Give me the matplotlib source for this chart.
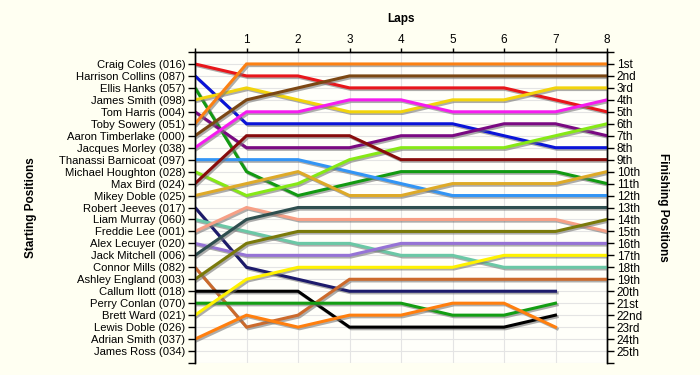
import matplotlib
matplotlib.use("Agg")
from matplotlib import pyplot as plt
import matplotlib.patheffects as pe

# starting grid order
drivers = ["Craig Coles (016)", "Harrison Collins (087)", "Ellis Hanks (057)",
           "James Smith (098)", "Tom Harris (004)", "Toby Sowery (051)",
           "Aaron Timberlake (000)", "Jacques Morley (038)", "Thanassi Barnicoat (097)",
           "Michael Houghton (028)", "Max Bird (024)", "Mikey Doble (025)",
           "Robert Jeeves (017)", "Liam Murray (060)", "Freddie Lee (001)",
           "Alex Lecuyer (020)", "Jack Mitchell (006)", "Connor Mills (082)",
           "Ashley England (003)", "Callum Ilott (018)", "Perry Conlan (070)",
           "Brett Ward (021)", "Lewis Doble (026)", "Adrian Smith (037)",
           "James Ross (034)"]

finish_labels = ["1st", "2nd", "3rd", "4th", "5th", "6th", "7th", "8th", "9th",
                 "10th", "11th", "12th", "13th", "14th", "15th", "16th", "17th",
                 "18th", "19th", "20th", "21st", "22nd", "23rd", "24th", "25th"]

laps = [0, 1, 2, 3, 4, 5, 6, 7, 8]

# position of each driver at lap 0..8 (shorter list = retired / lapped)
positions = {
    "Craig Coles (016)":        [1, 2, 2, 3, 3, 3, 3, 4, 5],
    "Harrison Collins (087)":   [2, 6, 6, 6, 6, 6, 7, 8, 8],
    "Ellis Hanks (057)":        [3, 10, 12, 11, 10, 10, 10, 10, 11],
    "James Smith (098)":        [4, 3, 4, 5, 5, 4, 4, 3, 3],
    "Tom Harris (004)":         [5, 8, 8, 8, 7, 7, 6, 6, 7],
    "Toby Sowery (051)":        [6, 1, 1, 1, 1, 1, 1, 1, 1],
    "Aaron Timberlake (000)":   [7, 4, 3, 2, 2, 2, 2, 2, 2],
    "Jacques Morley (038)":     [8, 5, 5, 4, 4, 5, 5, 5, 4],
    "Thanassi Barnicoat (097)": [9, 9, 9, 10, 11, 12, 12, 12, 12],
    "Michael Houghton (028)":   [10, 12, 11, 9, 8, 8, 8, 7, 6],
    "Max Bird (024)":           [11, 7, 7, 7, 9, 9, 9, 9, 9],
    "Mikey Doble (025)":        [12, 11, 10, 12, 12, 11, 11, 11, 10],
    "Robert Jeeves (017)":      [13, 18, 19, 20, 20, 20, 20, 20],
    "Liam Murray (060)":        [14, 15, 16, 16, 17, 17, 18, 18, 18],
    "Freddie Lee (001)":        [15, 13, 14, 14, 14, 14, 14, 14, 15],
    "Alex Lecuyer (020)":       [16, 17, 17, 17, 16, 16, 16, 16, 16],
    "Jack Mitchell (006)":      [17, 14, 13, 13, 13, 13, 13, 13, 13],
    "Connor Mills (082)":       [18, 23, 22, 19, 19, 19, 19, 19, 19],
    "Ashley England (003)":     [19, 16, 15, 15, 15, 15, 15, 15, 14],
    "Callum Ilott (018)":       [20, 20, 20, 23, 23, 23, 23, 22],
    "Perry Conlan (070)":       [21, 21, 21, 21, 21, 22, 22, 21],
    "Brett Ward (021)":         [22, 19, 18, 18, 18, 18, 17, 17, 17],
    "Adrian Smith (037)":       [24, 22, 23, 22, 22, 21, 21, 23],
}

colors = {
    "Craig Coles (016)": "#e8161b",
    "Harrison Collins (087)": "#0a14d8",
    "Ellis Hanks (057)": "#129a12",
    "James Smith (098)": "#f2d40c",
    "Tom Harris (004)": "#7a0a82",
    "Toby Sowery (051)": "#fb8013",
    "Aaron Timberlake (000)": "#7b4713",
    "Jacques Morley (038)": "#f51cef",
    "Thanassi Barnicoat (097)": "#3395f5",
    "Michael Houghton (028)": "#86e915",
    "Max Bird (024)": "#870c0c",
    "Mikey Doble (025)": "#deaa28",
    "Robert Jeeves (017)": "#1d1b6b",
    "Liam Murray (060)": "#6bc8a6",
    "Freddie Lee (001)": "#f7a086",
    "Alex Lecuyer (020)": "#9673d6",
    "Jack Mitchell (006)": "#2f4f4f",
    "Connor Mills (082)": "#cc6a2c",
    "Ashley England (003)": "#7a7a0a",
    "Callum Ilott (018)": "#000000",
    "Perry Conlan (070)": "#139e13",
    "Brett Ward (021)": "#fff200",
    "Adrian Smith (037)": "#ff7f0e",
}

bg = "#fffff2"
plt.rcParams["font.family"] = ["Liberation Sans", "DejaVu Sans"]

fig = plt.figure(figsize=(7, 3.75), dpi=100, facecolor=bg)
ax = fig.add_axes([195 / 700, 1 - 363 / 375, (607 - 195) / 700, (363 - 52) / 375])
ax.set_facecolor("#fffffa")

shadow = [pe.SimpleLineShadow(offset=(1.2, -1.2), shadow_color="#777777", alpha=0.6),
          pe.Normal()]
for name, pos in positions.items():
    ax.plot(laps[:len(pos)], pos, color=colors[name], lw=2.2,
            path_effects=shadow, solid_joinstyle="miter", zorder=3)

ax.set_xlim(0, 8)
ax.set_ylim(26, 0)

# top axis with laps
ax.xaxis.tick_top()
ax.set_xticks(laps)
ax.set_xticklabels([""] + [str(l) for l in laps[1:]], fontsize=8.5)
ax.xaxis.set_label_position("top")
ax.set_xlabel("Laps", fontsize=8.5, fontweight="bold", labelpad=9)

yt = list(range(0, 27))
ax.set_yticks(yt)
ax.set_yticklabels([""] + drivers + [""], fontsize=8.1)
ax.tick_params(axis="y", length=5, width=1, pad=2, left=True, right=False)
ax.tick_params(axis="x", length=3, width=1, pad=1)

ax2 = ax.twinx()
ax2.set_ylim(26, 0)
ax2.set_yticks(yt)
ax2.set_yticklabels([""] + finish_labels + [""], fontsize=8.5)
ax2.tick_params(axis="y", length=5, width=1, pad=2)
ax2.set_ylabel("Finishing Positions", fontsize=8.5, fontweight="bold",
               rotation=270, labelpad=0)
ax2.yaxis.set_label_coords(1.15, 0.5)

ax.set_ylabel("Starting Positions", fontsize=8.5, fontweight="bold")
ax.yaxis.set_label_coords(-0.383, 0.5)

ax.grid(True, color="#e4e4e4", lw=0.8, zorder=0)
ax.set_axisbelow(True)
for a in (ax, ax2):
    a.spines["bottom"].set_visible(False)
    for s in ("top", "left", "right"):
        a.spines[s].set_linewidth(1)
        a.spines[s].set_color("black")

fig.savefig("out.png", dpi=100, facecolor=bg)
